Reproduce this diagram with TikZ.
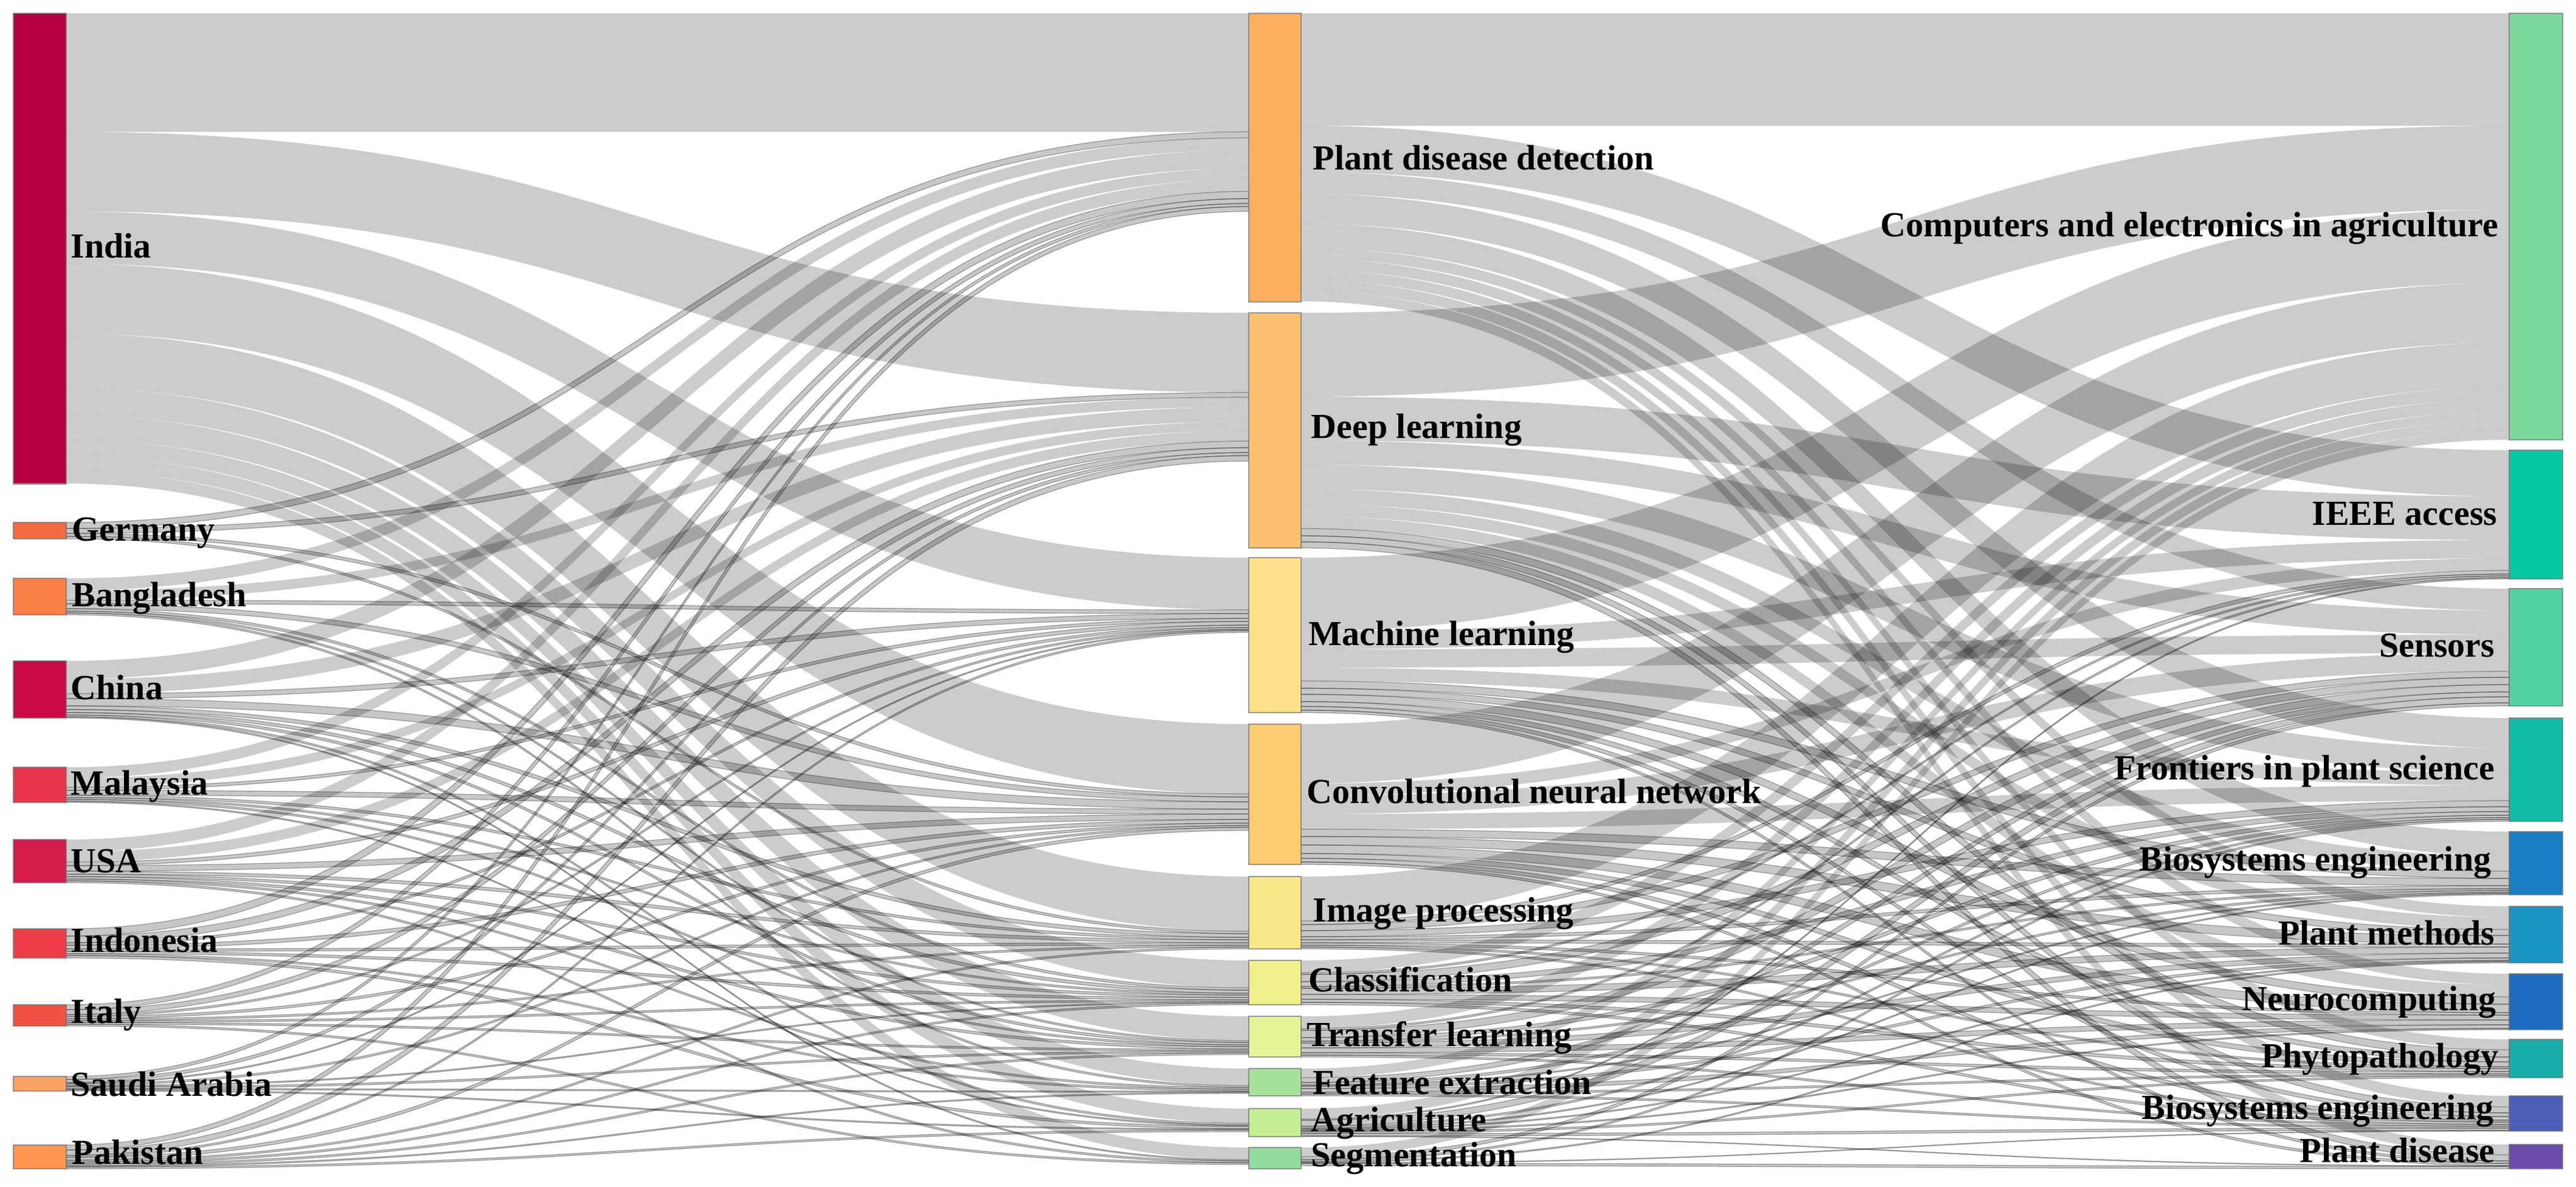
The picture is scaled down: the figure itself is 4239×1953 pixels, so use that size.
\documentclass[tikz,border=0pt]{standalone}
\usepackage{fontspec}
\setmainfont{Liberation Serif}
\usetikzlibrary{calc}
\pgfdeclarelayer{back}
\pgfdeclarelayer{flows}
\pgfsetlayers{back,flows,main}
% left colours
\definecolor{cIndia}{RGB}{183,0,64}
\definecolor{cGermany}{RGB}{243,106,66}
\definecolor{cBangladesh}{RGB}{251,128,72}
\definecolor{cChina}{RGB}{201,10,70}
\definecolor{cMalaysia}{RGB}{232,52,78}
\definecolor{cUSA}{RGB}{210,28,76}
\definecolor{cIndonesia}{RGB}{236,61,72}
\definecolor{cItaly}{RGB}{240,81,66}
\definecolor{cSaudi}{RGB}{252,162,99}
\definecolor{cPakistan}{RGB}{253,150,81}
% middle colours
\definecolor{cPDD}{RGB}{253,176,96}
\definecolor{cDL}{RGB}{254,193,113}
\definecolor{cML}{RGB}{254,225,139}
\definecolor{cCNN}{RGB}{253,203,114}
\definecolor{cIP}{RGB}{248,232,140}
\definecolor{cCls}{RGB}{240,240,142}
\definecolor{cTL}{RGB}{230,245,154}
\definecolor{cFE}{RGB}{168,226,154}
\definecolor{cAgri}{RGB}{198,238,150}
\definecolor{cSeg}{RGB}{146,219,160}
% right colours
\definecolor{cComp}{RGB}{125,217,160}
\definecolor{cIEEE}{RGB}{5,200,160}
\definecolor{cSens}{RGB}{82,210,162}
\definecolor{cFront}{RGB}{16,188,166}
\definecolor{cBio}{RGB}{26,126,196}
\definecolor{cPM}{RGB}{26,149,194}
\definecolor{cNeuro}{RGB}{31,108,192}
\definecolor{cPhyto}{RGB}{24,172,170}
\definecolor{cBioTwo}{RGB}{77,93,184}
\definecolor{cPDis}{RGB}{107,77,170}
\tikzset{
  bar/.style={draw=black!55, draw opacity=0.7, line width=0.6pt, inner sep=0pt, outer sep=0pt},
  lbl/.style={font=\bfseries\fontsize{16.5}{18}\selectfont, inner sep=0pt, text=black},
  lk/.style={fill=black, fill opacity=0.2},
  lkthin/.style={fill=black, fill opacity=0.22, draw=black, draw opacity=0.32, line width=0.35pt},
  lkby/.code={\ifdim #1pt<15pt\pgfkeysalso{lkthin}\else\pgfkeysalso{lk}\fi},
}
\newcommand\mkbar[6]{%
  \pgfmathsetmacro\bw{(#3-#2)/100}%
  \pgfmathsetmacro\bh{(#5-#4)/100}%
  \node[bar, fill=#6, minimum width=\bw cm, minimum height=\bh cm, anchor=north west] (#1) at (#2,#4) {};%
  \expandafter\xdef\csname so@#1\endcsname{0}%
  \expandafter\xdef\csname ti@#1\endcsname{0}%
}
\newcommand\lnk[3]{%
  \edef\srcoff{\csname so@#1\endcsname}%
  \edef\tgtoff{\csname ti@#2\endcsname}%
  \path[lkby=#3] ($(#1.north east)+(0,\srcoff)$) .. controls +(\curv,0) and +(-\curv,0) .. ($(#2.north west)+(0,\tgtoff)$) -- ++(0,#3) .. controls +(-\curv,0) and +(\curv,0) .. ($(#1.north east)+(0,\srcoff+#3)$) -- cycle;%
  \pgfmathsetmacro\tmpa{\srcoff+#3}\expandafter\xdef\csname so@#1\endcsname{\tmpa}%
  \pgfmathsetmacro\tmpb{\tgtoff+#3}\expandafter\xdef\csname ti@#2\endcsname{\tmpb}%
}
\newcommand\lnks[2]{\foreach \tgt/\wid in {#2}{\lnk{#1}{\tgt}{\wid}}}
\begin{document}
\begin{tikzpicture}[x=0.01cm,y=-0.01cm]
\useasboundingbox (0,0) rectangle (4239,1953);
\begin{pgfonlayer}{back}
\fill[white] (0,0) rectangle (4239,1953);
\end{pgfonlayer}
% ---------- left column
\mkbar{india}{22}{109}{22}{796}{cIndia}
\mkbar{germany}{22}{109}{860}{887}{cGermany}
\mkbar{bangladesh}{22}{109}{952}{1012}{cBangladesh}
\mkbar{china}{22}{109}{1088}{1182}{cChina}
\mkbar{malaysia}{22}{109}{1263}{1321}{cMalaysia}
\mkbar{usa}{22}{109}{1382}{1453}{cUSA}
\mkbar{indonesia}{22}{109}{1529}{1577}{cIndonesia}
\mkbar{italy}{22}{109}{1654}{1689}{cItaly}
\mkbar{saudi}{22}{109}{1772}{1796}{cSaudi}
\mkbar{pakistan}{22}{109}{1885}{1924}{cPakistan}
% ---------- middle column
\mkbar{pdd}{2055}{2141}{22}{497}{cPDD}
\mkbar{dl}{2055}{2141}{515}{902}{cDL}
\mkbar{ml}{2055}{2141}{918}{1173}{cML}
\mkbar{cnn}{2055}{2141}{1192}{1423}{cCNN}
\mkbar{ip}{2055}{2141}{1443}{1562}{cIP}
\mkbar{cls}{2055}{2141}{1581}{1654}{cCls}
\mkbar{tl}{2055}{2141}{1673}{1740}{cTL}
\mkbar{fe}{2055}{2141}{1759}{1804}{cFE}
\mkbar{agri}{2055}{2141}{1825}{1871}{cAgri}
\mkbar{seg}{2055}{2141}{1889}{1924}{cSeg}
% ---------- right column
\mkbar{comp}{4129}{4217}{22}{724}{cComp}
\mkbar{ieee}{4129}{4217}{741}{953}{cIEEE}
\mkbar{sens}{4129}{4217}{969}{1162}{cSens}
\mkbar{front}{4129}{4217}{1182}{1352}{cFront}
\mkbar{bio}{4129}{4217}{1369}{1473}{cBio}
\mkbar{pm}{4129}{4217}{1492}{1585}{cPM}
\mkbar{neuro}{4129}{4217}{1603}{1695}{cNeuro}
\mkbar{phyto}{4129}{4217}{1711}{1774}{cPhyto}
\mkbar{biotwo}{4129}{4217}{1804}{1862}{cBioTwo}
\mkbar{pdis}{4129}{4217}{1884}{1924}{cPDis}
% ---------- flows
\begin{pgfonlayer}{flows}
\def\curv{973}
\lnks{india}{pdd/195,dl/131,ml/86,cnn/115,ip/90,cls/45,tl/40,fe/28,agri/24,seg/20}
\lnks{germany}{pdd/10,dl/8,cnn/5,ip/4}
\lnks{bangladesh}{pdd/20,dl/16,ml/6,cnn/8,cls/4,tl/3,fe/3}
\lnks{china}{pdd/30,dl/24,ml/8,cnn/12,ip/6,cls/5,tl/4,agri/3,seg/2}
\lnks{malaysia}{pdd/18,dl/15,ml/5,cnn/8,ip/4,cls/3,tl/3,agri/2}
\lnks{usa}{pdd/20,dl/17,ml/6,cnn/9,ip/5,cls/4,tl/4,fe/3,seg/3}
\lnks{indonesia}{pdd/12,dl/11,ml/4,cnn/6,ip/4,cls/4,fe/3,agri/4}
\lnks{italy}{pdd/8,dl/8,ml/3,cnn/4,ip/3,cls/3,tl/3,seg/3}
\lnks{saudi}{pdd/5,dl/5,ml/2,cnn/3,cls/2,tl/3,fe/2,agri/2}
\lnks{pakistan}{pdd/8,dl/9,ml/3,cnn/5,ip/3,cls/3,tl/3,fe/2,agri/3}
\def\curv{994}
\lnks{pdd}{comp/185,ieee/76,sens/36,front/49,bio/40,pm/18,neuro/18,phyto/17,biotwo/18,pdis/17}
\lnks{dl}{comp/138,ieee/72,sens/40,front/40,bio/25,pm/20,neuro/20,phyto/12,biotwo/10,pdis/10}
\lnks{ml}{comp/121,ieee/30,sens/30,front/22,bio/12,pm/10,neuro/12,phyto/8,biotwo/6,pdis/4}
\lnks{cnn}{comp/98,ieee/20,sens/30,front/25,bio/12,pm/14,neuro/14,phyto/8,biotwo/6,pdis/4}
\lnks{ip}{comp/73,ieee/6,sens/10,front/10,bio/5,pm/5,neuro/4,phyto/3,biotwo/3}
\lnks{cls}{comp/20,ieee/3,sens/12,front/8,bio/3,pm/10,neuro/8,phyto/5,biotwo/4}
\lnks{tl}{comp/20,ieee/3,sens/12,front/6,bio/3,pm/8,neuro/8,phyto/4,biotwo/3}
\lnks{fe}{comp/15,sens/8,front/4,bio/2,pm/4,neuro/6,phyto/3,biotwo/3}
\lnks{agri}{comp/17,ieee/2,sens/10,front/3,bio/2,pm/2,neuro/2,phyto/3,biotwo/4,pdis/1}
\lnks{seg}{comp/15,sens/5,front/3,pm/2,biotwo/1,pdis/4}
\end{pgfonlayer}
% ---------- labels
\node[lbl, anchor=base west] (tIndia) at (116,424) {India};
\node[lbl, anchor=base west] (tGermany) at (118,890) {Germany};
\node[lbl, anchor=base west] (tBangladesh) at (118,998) {Bangladesh};
\node[lbl, anchor=base west] (tChina) at (116,1151) {China};
\node[lbl, anchor=base west] (tMalaysia) at (116,1308) {Malaysia};
\node[lbl, anchor=base west] (tUSA) at (116,1436) {USA};
\node[lbl, anchor=base west] (tIndonesia) at (116,1567) {Indonesia};
\node[lbl, anchor=base west] (tItaly) at (116,1684) {Italy};
\node[lbl, anchor=base west] (tSaudi) at (116,1804) {Saudi Arabia};
\node[lbl, anchor=base west] (tPakistan) at (118,1916) {Pakistan};
\node[lbl, anchor=base west] (tPDD) at (2160,279) {Plant disease detection};
\node[lbl, anchor=base west] (tDL) at (2157,721) {Deep learning};
\node[lbl, anchor=base west] (tML) at (2153,1062) {Machine learning};
\node[lbl, anchor=base west] (tCNN) at (2150,1322) {Convolutional neural network};
\node[lbl, anchor=base west] (tIP) at (2160,1517) {Image processing};
\node[lbl, anchor=base west] (tCls) at (2153,1632) {Classification};
\node[lbl, anchor=base west] (tTL) at (2150,1722) {Transfer learning};
\node[lbl, anchor=base west] (tFE) at (2160,1801) {Feature extraction};
\node[lbl, anchor=base west] (tAgri) at (2157,1862) {Agriculture};
\node[lbl, anchor=base west] (tSeg) at (2157,1920) {Segmentation};
\node[lbl, anchor=base east] (tComp) at (4112,389) {Computers and electronics in agriculture};
\node[lbl, anchor=base east] (tIEEE) at (4110,864) {IEEE access};
\node[lbl, anchor=base east] (tSens) at (4106,1081) {Sensors};
\node[lbl, anchor=base east] (tFront) at (4106,1283) {Frontiers in plant science};
\node[lbl, anchor=base east] (tBio) at (4100,1433) {Biosystems engineering};
\node[lbl, anchor=base east] (tPM) at (4106,1555) {Plant methods};
\node[lbl, anchor=base east] (tNeuro) at (4108,1663) {Neurocomputing};
\node[lbl, anchor=base east] (tPhyto) at (4112,1757) {Phytopathology};
\node[lbl, anchor=base east] (tBioTwo) at (4104,1842) {Biosystems engineering};
\node[lbl, anchor=base east] (tPDis) at (4106,1913) {Plant disease};
\end{tikzpicture}
\end{document}
